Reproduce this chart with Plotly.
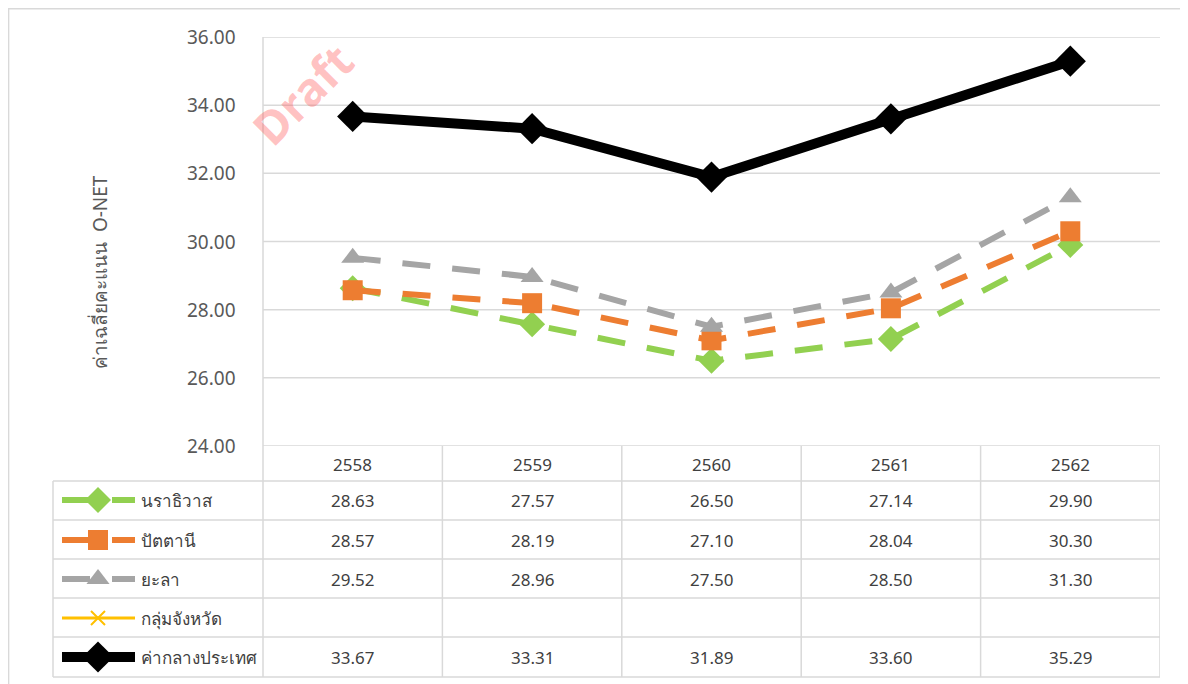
import plotly.graph_objects as go

# figure sits at an 8px body margin in the page, so size it to fill the rest
FW, FH = 1180, 676
OFF = 8

years = ["2558", "2559", "2560", "2561", "2562"]
series_names = ["นราธิวาส", "ปัตตานี", "ยะลา", "กลุ่มจังหวัด", "ค่ากลางประเทศ"]
narathiwat = [28.63, 27.57, 26.50, 27.14, 29.90]
pattani = [28.57, 28.19, 27.10, 28.04, 30.30]
yala = [29.52, 28.96, 27.50, 28.50, 31.30]
province_group = [None, None, None, None, None]
national = [33.67, 33.31, 31.89, 33.60, 35.29]
y_ticks = [24, 26, 28, 30, 32, 34, 36]

values = [narathiwat, pattani, yala, province_group, national]
styles = [
    dict(color="#92D050", width=6, dash="28px,22px", symbol="diamond", size=20),
    dict(color="#ED7D31", width=6, dash="28px,22px", symbol="square", size=20),
    dict(color="#A5A5A5", width=6, dash="28px,22px", symbol="triangle-up", size=20),
    dict(color="#FFC000", width=3, dash="solid", symbol="x-thin", size=14),
    dict(color="#000000", width=10, dash="solid", symbol="diamond", size=24),
]

FONT = "Noto Sans, Roboto, sans-serif"
GRID = "#D9D9D9"
TXT = "#404040"


def px(x):
    return (x - OFF) / FW


def py(y):
    return 1 - (y - OFF) / FH


# page-pixel layout of the plot area and the data table below it
PLOT_L, PLOT_R, PLOT_T, PLOT_B = 263, 1160, 37, 446
TABLE_L, TABLE_B = 53, 677
row_lines = [481, 520, 559, 598, 637, 677]
row_centers = [500, 540, 579, 618, 657]
header_center = 464


def marker_for(st):
    return dict(
        symbol=st["symbol"],
        size=st["size"],
        color=st["color"],
        line=dict(color=st["color"], width=2 if st["symbol"] == "x-thin" else 0),
    )


fig = go.Figure()

for name, vals, st in zip(series_names, values, styles):
    fig.add_trace(
        go.Scatter(
            x=years,
            y=vals,
            name=name,
            mode="lines+markers",
            line=dict(color=st["color"], width=st["width"], dash=st["dash"]),
            marker=marker_for(st),
            showlegend=False,
            hoverinfo="x+y+name",
        )
    )

# legend keys inside the table, on a page-pixel axis
for name, st, yc in zip(series_names, styles, row_centers):
    fig.add_trace(
        go.Scatter(
            x=[62, 135],
            y=[yc, yc],
            mode="lines",
            line=dict(color=st["color"], width=st["width"], dash=st["dash"]),
            xaxis="x2",
            yaxis="y2",
            showlegend=False,
            hoverinfo="skip",
        )
    )
    fig.add_trace(
        go.Scatter(
            x=[98],
            y=[yc],
            mode="markers",
            marker=marker_for(st),
            xaxis="x2",
            yaxis="y2",
            showlegend=False,
            hoverinfo="skip",
        )
    )

line_style = dict(color=GRID, width=1.5)
shapes = []
for t in y_ticks:
    shapes.append(dict(type="line", xref="paper", yref="y", x0=px(PLOT_L), x1=px(PLOT_R),
                       y0=t, y1=t, line=line_style, layer="below"))
shapes.append(dict(type="line", xref="paper", yref="paper", x0=px(PLOT_L), x1=px(PLOT_L),
                   y0=py(PLOT_T), y1=py(TABLE_B), line=line_style, layer="below"))
for i in range(len(years)):
    shapes.append(dict(type="line", xref="x", yref="paper", x0=i + 0.5, x1=i + 0.5,
                       y0=py(PLOT_B), y1=py(TABLE_B), line=line_style, layer="below"))
shapes.append(dict(type="line", xref="paper", yref="paper", x0=px(TABLE_L), x1=px(TABLE_L),
                   y0=py(row_lines[0]), y1=py(TABLE_B), line=line_style, layer="below"))
for yl in row_lines:
    shapes.append(dict(type="line", xref="paper", yref="paper", x0=px(TABLE_L), x1=px(PLOT_R),
                       y0=py(yl), y1=py(yl), line=line_style, layer="below"))
shapes.append(dict(type="rect", xref="paper", yref="paper", x0=0.0005, x1=1.01,
                   y0=-0.01, y1=0.999, line=line_style, layer="below"))

annotations = []
for t in y_ticks:
    annotations.append(dict(x=px(238), y=t, xref="paper", yref="y", text=f"{t:.2f}",
                            xanchor="right", yanchor="middle", showarrow=False,
                            font=dict(family=FONT, size=19, color="#595959")))
for i, yr in enumerate(years):
    annotations.append(dict(x=i, y=py(header_center), xref="x", yref="paper", text=yr,
                            xanchor="center", yanchor="middle", showarrow=False,
                            font=dict(family=FONT, size=17, color=TXT)))
for name, vals, yc in zip(series_names, values, row_centers):
    annotations.append(dict(x=px(139), y=py(yc), xref="paper", yref="paper", text=name,
                            xanchor="left", yanchor="middle", showarrow=False,
                            font=dict(family=FONT, size=17, color=TXT)))
    for i, v in enumerate(vals):
        if v is None:
            continue
        annotations.append(dict(x=i, y=py(yc), xref="x", yref="paper", text=f"{v:.2f}",
                                xanchor="center", yanchor="middle", showarrow=False,
                                font=dict(family=FONT, size=17, color=TXT)))
annotations.append(dict(x=px(100), y=py(272), xref="paper", yref="paper",
                        text="ค่าเฉลี่ยคะแนน  O-NET", textangle=-90, showarrow=False,
                        xanchor="center", yanchor="middle",
                        font=dict(family=FONT, size=19, color="#595959")))
annotations.append(dict(x=px(302), y=py(94), xref="paper", yref="paper", text="<b>Draft</b>",
                        textangle=-45, showarrow=False, xanchor="center", yanchor="middle",
                        font=dict(family=FONT, size=46, color="rgba(255,80,80,0.35)")))

fig.update_layout(
    width=FW,
    height=FH,
    margin=dict(l=0, r=0, t=0, b=0),
    paper_bgcolor="white",
    plot_bgcolor="rgba(0,0,0,0)",
    xaxis=dict(type="category", range=[-0.5, 4.5], domain=[px(PLOT_L), px(PLOT_R)],
               showgrid=False, zeroline=False, showticklabels=False, showline=False,
               fixedrange=True),
    yaxis=dict(range=[24, 36], domain=[py(PLOT_B), py(PLOT_T)], showgrid=False,
               zeroline=False, showticklabels=False, showline=False, fixedrange=True),
    xaxis2=dict(range=[OFF, OFF + FW], domain=[0, 1], visible=False, anchor="y2",
                fixedrange=True),
    yaxis2=dict(range=[OFF + FH, OFF], domain=[0, 1], visible=False, anchor="x2",
                fixedrange=True),
    shapes=shapes,
    annotations=annotations,
)

fig.write_html("out.html")
